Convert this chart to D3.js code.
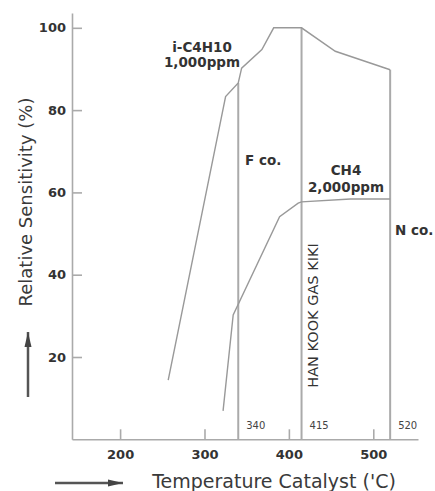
<!DOCTYPE html>
<html lang="en">
<head>
    <meta charset="UTF-8">
    <title>Relative Sensitivity vs Temperature Catalyst</title>
    <script src="https://d3js.org/d3.v7.min.js"></script>
    <style>
        body { margin: 0; background: #fff; }
        svg { display: block; }
        .tick text { font-family: "DejaVu Sans", sans-serif; font-weight: bold; font-size: 13px; fill: #333; }
        .tick line, .domain { stroke: #aaa; stroke-width: 1.6; }
    </style>
</head>
<body>
    <svg width="435" height="491"></svg>

    <script>
        // donnees
        const iC4H10Temp = [257, 325, 340, 344, 368, 382, 415, 455, 520];
        const iC4H10Sens = [14.4, 83.3, 86.6, 90.2, 94.7, 100, 100, 94.3, 89.8];
        const ch4Temp = [322, 334, 389, 411, 415, 473, 520];
        const ch4Sens = [6.9, 30.2, 54.1, 57.4, 57.7, 58.4, 58.4];
        const catalystTemp = [340, 415, 520];
        const catalystTop = [86.6, 100, 89.8];
        const catalystLabels = ["340", "415", "520"];
        const xTicks = [200, 300, 400, 500];
        const yTicks = [20, 40, 60, 80, 100];

        const svg = d3.select("svg");

        const x = d3.scaleLinear().domain([143, 553]).range([72, 418]);
        const y = d3.scaleLinear().domain([0, 103.6]).range([439.3, 13]);

        // axes, ticks vers l'interieur
        svg.append("g")
            .attr("transform", "translate(0,439.3)")
            .call(d3.axisBottom(x).tickValues(xTicks).tickSizeInner(-10).tickSizeOuter(0).tickPadding(10));

        svg.append("g")
            .attr("transform", "translate(72,0)")
            .call(d3.axisLeft(y).tickValues(yTicks).tickSizeInner(-10).tickSizeOuter(0).tickPadding(6));

        // lignes verticales des catalyseurs
        svg.selectAll(".cat")
            .data(catalystTemp)
            .enter().append("line")
            .attr("x1", d => x(d))
            .attr("x2", d => x(d))
            .attr("y1", y(0))
            .attr("y2", (d, i) => y(catalystTop[i]))
            .attr("stroke", "#aaa")
            .attr("stroke-width", 2);

        svg.selectAll(".catlabel")
            .data(catalystTemp)
            .enter().append("text")
            .attr("x", d => x(d) + 8)
            .attr("y", 429)
            .attr("font-family", "DejaVu Sans, sans-serif")
            .attr("font-size", "10px")
            .attr("fill", "#444")
            .text((d, i) => catalystLabels[i]);

        // courbes
        const line = d3.line().x(d => x(d[0])).y(d => y(d[1]));

        svg.append("path")
            .attr("d", line(iC4H10Temp.map((t, i) => [t, iC4H10Sens[i]])))
            .attr("fill", "none")
            .attr("stroke", "#999")
            .attr("stroke-width", 1.4);

        svg.append("path")
            .attr("d", line(ch4Temp.map((t, i) => [t, ch4Sens[i]])))
            .attr("fill", "none")
            .attr("stroke", "#999")
            .attr("stroke-width", 1.4);

        // annotations
        const labels = [
            { t: "i-C4H10", x: 202, y: 52, a: "middle" },
            { t: "1,000ppm", x: 202, y: 67, a: "middle" },
            { t: "F co.", x: 245, y: 165, a: "start" },
            { t: "CH4", x: 346, y: 175, a: "middle" },
            { t: "2,000ppm", x: 346, y: 192, a: "middle" },
            { t: "N co.", x: 395, y: 235, a: "start" }
        ];
        svg.selectAll(".annot")
            .data(labels)
            .enter().append("text")
            .attr("x", d => d.x)
            .attr("y", d => d.y)
            .attr("text-anchor", d => d.a)
            .attr("font-family", "DejaVu Sans, sans-serif")
            .attr("font-weight", "bold")
            .attr("font-size", "13.5px")
            .attr("fill", "#333")
            .text(d => d.t);

        svg.append("text")
            .attr("transform", "translate(318,315.5) rotate(-90)")
            .attr("text-anchor", "middle")
            .attr("font-family", "DejaVu Sans, sans-serif")
            .attr("font-size", "14.5px")
            .attr("fill", "#333")
            .text("HAN KOOK GAS KIKI");

        // titres des axes
        svg.append("text")
            .attr("transform", "translate(32,202) rotate(-90)")
            .attr("text-anchor", "middle")
            .attr("font-family", "DejaVu Sans, sans-serif")
            .attr("font-size", "18px")
            .attr("fill", "#3a3a3a")
            .text("Relative Sensitivity (%)");

        svg.append("text")
            .attr("x", 274)
            .attr("y", 488)
            .attr("text-anchor", "middle")
            .attr("font-family", "DejaVu Sans, sans-serif")
            .attr("font-size", "19px")
            .attr("fill", "#3a3a3a")
            .text("Temperature Catalyst ('C)");

        // fleches
        svg.append("defs").append("marker")
            .attr("id", "arrow")
            .attr("viewBox", "0 0 15 8")
            .attr("refX", 15).attr("refY", 4)
            .attr("markerUnits", "userSpaceOnUse")
            .attr("markerWidth", 15).attr("markerHeight", 8)
            .attr("orient", "auto")
            .append("path")
            .attr("d", "M0,0.5 L15,4 L0,7.5 Z")
            .attr("fill", "#444");

        svg.append("line")
            .attr("x1", 28).attr("y1", 397).attr("x2", 28).attr("y2", 332)
            .attr("stroke", "#555").attr("stroke-width", 2.5)
            .attr("marker-end", "url(#arrow)");

        svg.append("line")
            .attr("x1", 55).attr("y1", 483).attr("x2", 123).attr("y2", 483)
            .attr("stroke", "#555").attr("stroke-width", 2.5)
            .attr("marker-end", "url(#arrow)");
    </script>
</body>
</html>
